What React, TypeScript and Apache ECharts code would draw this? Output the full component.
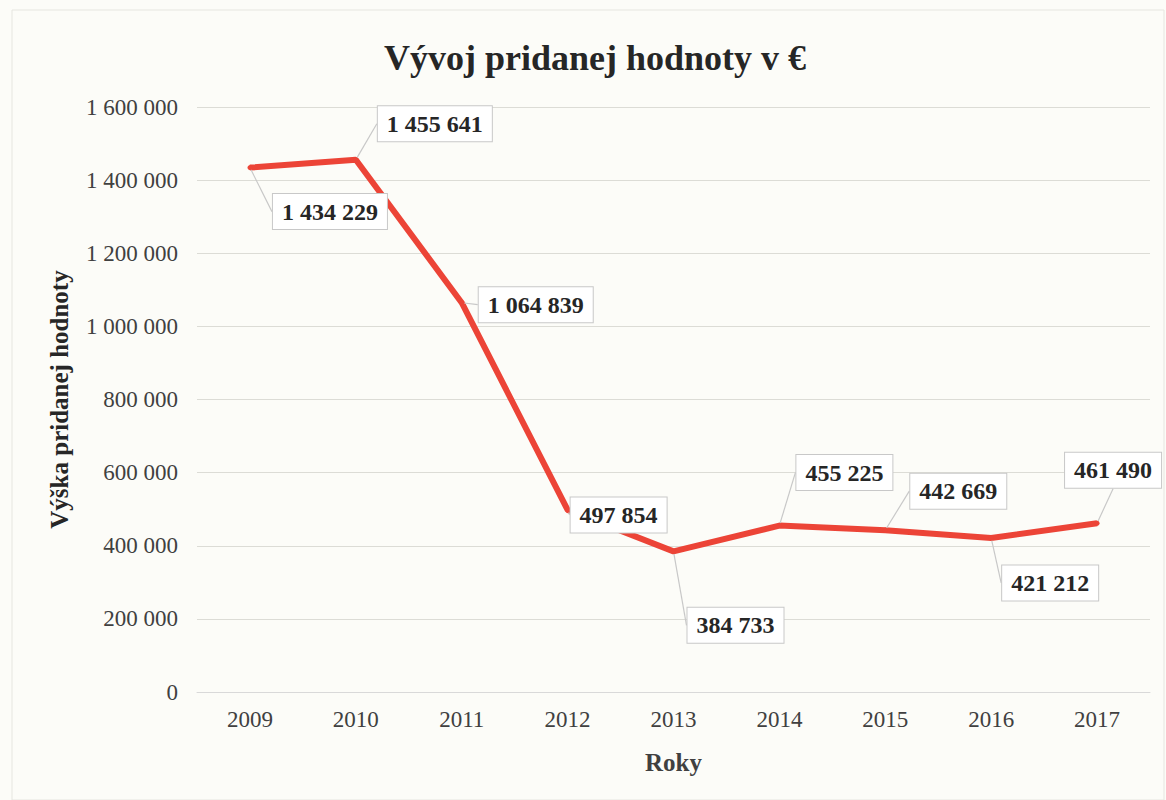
import React, { useEffect, useRef } from "react";
import * as echarts from "echarts";

const years = ["2009", "2010", "2011", "2012", "2013", "2014", "2015", "2016", "2017"];
const values = [1434229, 1455641, 1064839, 497854, 384733, 455225, 442669, 421212, 461490];
const yTicks = { min: 0, max: 1600000, interval: 200000 };
// label callout offsets (layout only)
const labelOffsets: [number, number][] = [
  [80, 44], [79, -36], [74, 2], [51, 5], [62, 74], [65, -53], [73, -39], [59, 45], [16, -53],
];

const fmt = (v: number) => String(v).replace(/\B(?=(\d{3})+(?!\d))/g, " ");
const SERIF = "'Liberation Serif', 'Times New Roman', serif";

export default function App() {
  const ref = useRef<HTMLDivElement>(null);
  useEffect(() => {
    const chart = echarts.init(ref.current!, null, { renderer: "svg" });
    chart.setOption({
      animation: false,
      backgroundColor: "#fcfcf8",
      title: {
        text: "Vývoj pridanej hodnoty v €",
        left: 590,
        textAlign: "center",
        top: 35,
        textStyle: { fontFamily: SERIF, fontSize: 36, fontWeight: "bold", color: "#262626" },
      },
      graphic: [
        {
          type: "rect",
          shape: { x: 12, y: 10, width: 1152, height: 790 },
          style: { fill: "none", stroke: "#e6e6e0", lineWidth: 1 },
          silent: true,
        },
      ],
      grid: { left: 197, right: 16, top: 107, bottom: 108 },
      xAxis: {
        type: "category",
        data: years,
        boundaryGap: true,
        axisLine: { show: true, lineStyle: { color: "#d9d9d9", width: 1 } },
        axisTick: { show: false },
        axisLabel: { fontFamily: SERIF, fontSize: 23, color: "#404040", margin: 16 },
        name: "Roky",
        nameLocation: "middle",
        nameGap: 58,
        nameTextStyle: { fontFamily: SERIF, fontSize: 25, fontWeight: "bold", color: "#404040" },
      },
      yAxis: {
        type: "value",
        min: yTicks.min,
        max: yTicks.max,
        interval: yTicks.interval,
        axisLine: { show: false },
        axisTick: { show: false },
        splitLine: { lineStyle: { color: "#dcdcd6", width: 1 } },
        axisLabel: { fontFamily: SERIF, fontSize: 23, color: "#404040", margin: 19, formatter: (v: number) => fmt(v) },
        name: "Výška pridanej hodnoty",
        nameLocation: "middle",
        nameGap: 125,
        nameRotate: 90,
        nameTextStyle: { fontFamily: SERIF, fontSize: 25, fontWeight: "bold", color: "#262626" },
      },
      series: [
        {
          type: "line",
          data: values,
          symbol: "circle",
          symbolSize: 5,
          itemStyle: { color: "#ec4437" },
          lineStyle: { color: "#ec4437", width: 6 },
          label: {
            show: true,
            position: "inside",
            formatter: (p: any) => fmt(p.value),
            fontFamily: SERIF,
            fontSize: 24,
            fontWeight: "bold",
            color: "#262626",
            backgroundColor: "#ffffff",
            borderColor: "#c8c8c8",
            borderWidth: 1,
            padding: [6, 9, 5, 9],
          },
          labelLine: { show: true, lineStyle: { color: "#c8c8c8", width: 1.2 } },
          labelLayout: (p: any) => ({ dx: labelOffsets[p.dataIndex][0], dy: labelOffsets[p.dataIndex][1] }),
        },
      ],
    });
    return () => chart.dispose();
  }, []);
  return (
    <div
      ref={ref}
      style={{ position: "absolute", left: 0, top: 0, width: 1166, height: 800 }}
    />
  );
}
